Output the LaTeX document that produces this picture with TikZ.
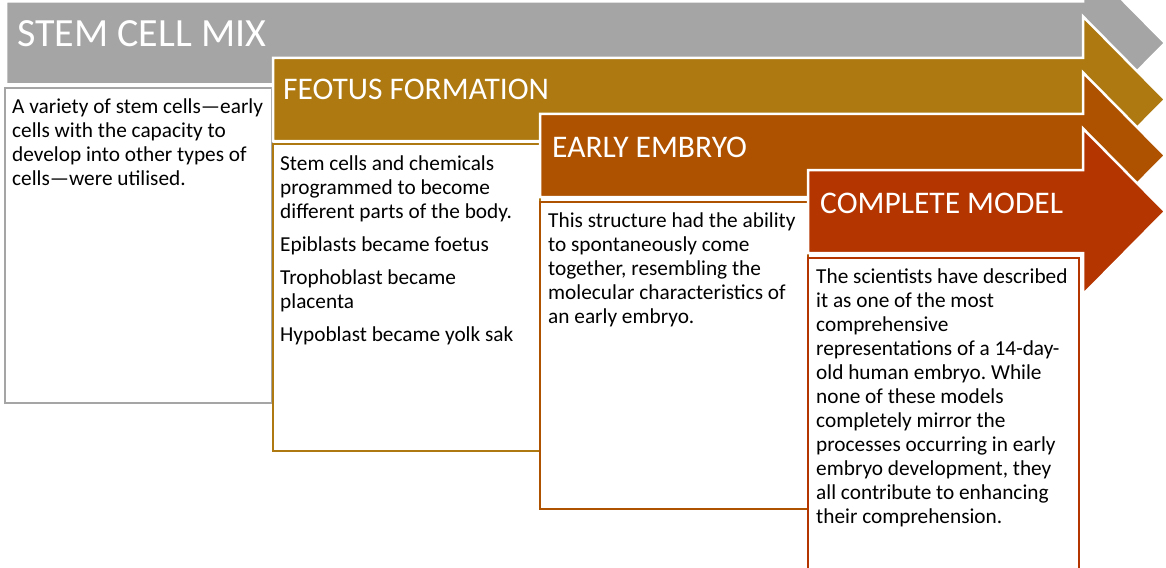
\documentclass[tikz,border=0pt]{standalone}
\usepackage{fontspec}
\setmainfont{Carlito}
\frenchspacing
\definecolor{stemgrey}{HTML}{A5A5A5}
\definecolor{feotusgold}{HTML}{AD7910}
\definecolor{embryoorange}{HTML}{AE5200}
\definecolor{modelred}{HTML}{B43500}

\tikzset{
  stagearrow/.style={fill=#1, draw=white, line width=2.5pt, line join=miter},
  stagebox/.style={draw=#1, fill=white, line width=2.5pt},
  stagetitle/.style={anchor=base west, inner sep=0pt, text=white, font=\fontsize{31.5}{36}\selectfont},
  stagetext/.style={anchor=north west, inner sep=0pt, align=left, font=\fontsize{21.3}{24}\selectfont},
}
% arrow body: left end, middle line, colour
\newcommand{\stagearrowat}[3]{%
  \draw[stagearrow=#3] (#1,#2-41.5) -- (1083,#2-41.5) -- (1083,#2-83) -- (1165,#2)
    -- (1083,#2+83) -- (1083,#2+41.5) -- (#1,#2+41.5) -- cycle;}

\begin{document}
\begin{tikzpicture}[x=1pt,y=-1pt]
  \useasboundingbox (0,0) rectangle (1166,567);
  \clip (0,0) rectangle (1166,567);

  % stem cell mix
  \stagearrowat{6}{43}{stemgrey}
  \node[stagetitle, font=\fontsize{40}{46}\selectfont] (mixtitle) at (17,47) {STEM CELL MIX};
  \draw[stagebox=stemgrey] (5,88) rectangle (272,403);
  \node[stagetext] (mixtext) at (12,113-16.8) {\strut A variety of stem cells—early\\cells with the capacity to\\develop into other types of\\cells—were utilised.};

  % feotus formation
  \stagearrowat{273}{99.5}{feotusgold}
  \node[stagetitle] (feotustitle) at (283,100) {FEOTUS FORMATION};
  \draw[stagebox=feotusgold] (273,144) rectangle (540,451);
  \node[stagetext] (feotustext) at (280,170-16.8) {\strut Stem cells and chemicals\\programmed to become\\different parts of the body.\\[9pt]
    Epiblasts became foetus\\[9pt]Trophoblast became\\placenta\\[9pt]Hypoblast became yolk sak};

  % early embryo
  \stagearrowat{540}{155.5}{embryoorange}
  \node[stagetitle] (embryotitle) at (552,157) {EARLY EMBRYO};
  \draw[stagebox=embryoorange] (540,202) rectangle (808,509);
  \node[stagetext] (embryotext) at (548,227-16.8) {\strut This structure had the ability\\to spontaneously come\\together, resembling the\\molecular characteristics of\\an early embryo.};

  % complete model
  \stagearrowat{808}{211.5}{modelred}
  \node[stagetitle] (modeltitle) at (820,213) {COMPLETE MODEL};
  \draw[stagebox=modelred] (808,258) rectangle (1079,600);
  \node[stagetext] (modeltext) at (816,283-16.8) {\strut The scientists have described\\it as one of the most\\comprehensive\\representations of a 14-day-\\old human embryo. While\\none of these models\\completely mirror the\\processes occurring in early\\embryo development, they\\all contribute to enhancing\\their comprehension.};
\end{tikzpicture}
\end{document}
